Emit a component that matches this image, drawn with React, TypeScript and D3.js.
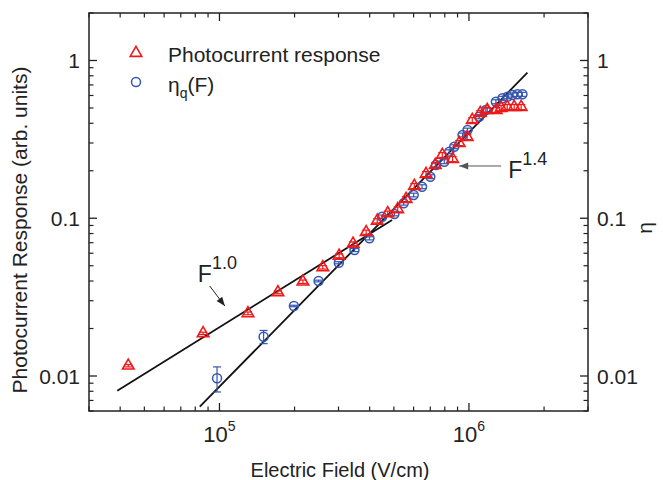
import React from 'react';
import * as d3 from 'd3';

// ---- data ----
const photoX = [4.31e4, 8.6e4, 1.301e5, 1.715e5, 2.16e5, 2.596e5, 3.017e5, 3.432e5, 3.872e5, 4.289e5, 4.725e5, 5.18e5, 5.597e5, 6.04e5, 6.73e5, 7.33e5, 7.82e5, 8.6e5, 9.14e5, 9.84e5, 1.031e6, 1.11e6, 1.184e6, 1.286e6, 1.346e6, 1.423e6, 1.518e6, 1.619e6];
const photoY = [0.01162, 0.01865, 0.02496, 0.03392, 0.0396, 0.04887, 0.05778, 0.06885, 0.08155, 0.09632, 0.1075, 0.1139, 0.1324, 0.1601, 0.1907, 0.2175, 0.2518, 0.2374, 0.2998, 0.3273, 0.4195, 0.4646, 0.4855, 0.4855, 0.4999, 0.5072, 0.5072, 0.5072];
const photoErr = [0.0002, 0.0003, 0.0005, 0.0007, 0.001, 0.0012, 0.0016, 0.002, 0.0025, 0.003, 0.0035, 0.004, 0.005, 0.006, 0.007, 0.008, 0.009, 0.009, 0.011, 0.012, 0.015, 0.017, 0.018, 0.018, 0.019, 0.019, 0.019, 0.019];

const etaX = [9.78e4, 1.503e5, 1.988e5, 2.496e5, 3.009e5, 3.476e5, 3.992e5, 4.487e5, 5.025e5, 5.475e5, 6.003e5, 6.485e5, 7.0e5, 7.38e5, 7.965e5, 8.34e5, 8.73e5, 9.43e5, 9.87e5, 1.099e6, 1.169e6, 1.282e6, 1.362e6, 1.427e6, 1.494e6, 1.564e6, 1.638e6];
const etaY = [0.00967, 0.01774, 0.02778, 0.04, 0.05225, 0.06288, 0.0746, 0.1023, 0.1064, 0.1244, 0.1404, 0.1585, 0.1834, 0.2175, 0.2283, 0.2641, 0.2841, 0.3371, 0.3624, 0.4402, 0.4855, 0.5479, 0.5758, 0.5893, 0.6042, 0.6104, 0.6104];
const etaErr = [0.00175, 0.0017, 0.0003, 0.0005, 0.0008, 0.0014, 0.0017, 0.0025, 0.0028, 0.0033, 0.0038, 0.0045, 0.0052, 0.006, 0.0065, 0.0075, 0.008, 0.0095, 0.01, 0.013, 0.014, 0.016, 0.017, 0.017, 0.018, 0.018, 0.018];

// power-law guide lines: endpoints in data units
const fit10X = [3.894e4, 4.918e5];
const fit10Y = [0.00807, 0.0975];
const fit14X = [8.34e4, 1.715e6];
const fit14Y = [0.00639, 0.8367];

const xMajor = [1e5, 1e6];
const xMajorExp = ['5', '6'];
const yMajor = [0.01, 0.1, 1];
const yMajorLabels = ['0.01', '0.1', '1'];

const legendLabels = ['Photocurrent response', 'η'];

// ---- layout ----
const W = 663, H = 480;
const L = 89, R = 588, T = 13, B = 411;
const FONT = '"Liberation Sans", Arial, Helvetica, sans-serif';
const RED = '#f01818';
const BLUE = '#3456b0';
const AX = '#222';

export default function App() {
  const x = d3.scaleLog().domain([3e4, 3e6]).range([L, R]);
  const y = d3.scaleLog().domain([0.006, 2]).range([B, T]);

  const xMinor: number[] = [];
  for (let e = 4; e <= 6; e++) for (let m = 2; m <= 9; m++) {
    const v = m * Math.pow(10, e);
    if (v >= 3e4 && v <= 3e6) xMinor.push(v);
  }
  const yMinor: number[] = [];
  for (let e = -3; e <= 0; e++) for (let m = 2; m <= 9; m++) {
    const v = m * Math.pow(10, e);
    if (v >= 0.006 && v <= 2) yMinor.push(v);
  }

  const tri = d3.symbol().type(d3.symbolTriangle).size(58)()!;
  const line = d3.line<[number, number]>().x(d => x(d[0])).y(d => y(d[1]));

  const f10 = { lx: 8.19e4, ly: 0.0396, ax0: 9.14e4, ay0: 0.03719, ax1: 1.051e5, ay1: 0.02778 };
  const f14 = { lx: 1.436e6, ly: 0.1799, ax0: 1.346e6, ay0: 0.2144, ax1: 9.14e5, ay1: 0.2144 };

  const arrowHead = (x0: number, y0: number, x1: number, y1: number, len: number, half: number) => {
    const ang = Math.atan2(y1 - y0, x1 - x0);
    const bx = x1 - len * Math.cos(ang), by = y1 - len * Math.sin(ang);
    const px = -Math.sin(ang) * half, py = Math.cos(ang) * half;
    return `M${x1},${y1}L${bx + px},${by + py}L${bx - px},${by - py}Z`;
  };

  const errBar = (cx: number, v: number, e: number, color: string, key: string) => {
    const y0 = y(v - e), y1 = y(v + e);
    return (
      <g key={key} stroke={color} strokeWidth={1.2}>
        <line x1={cx} x2={cx} y1={y0} y2={y1} />
        <line x1={cx - 4} x2={cx + 4} y1={y0} y2={y0} />
        <line x1={cx - 4} x2={cx + 4} y1={y1} y2={y1} />
      </g>
    );
  };

  const a1 = { x0: x(f10.ax0), y0: y(f10.ay0), x1: x(f10.ax1), y1: y(f10.ay1) };
  const a2 = { x0: x(f14.ax0), y0: y(f14.ay0), x1: x(f14.ax1), y1: y(f14.ay1) };

  return (
    <svg width={W} height={H} style={{ position: 'absolute', left: 0, top: 0, background: '#fff' }} fontFamily={FONT}>
      <rect x={0} y={0} width={W} height={H} fill="#fff" />
      {/* fit lines */}
      <path d={line([[fit10X[0], fit10Y[0]], [fit10X[1], fit10Y[1]]])!} stroke="#111" strokeWidth={1.8} fill="none" />
      <path d={line([[fit14X[0], fit14Y[0]], [fit14X[1], fit14Y[1]]])!} stroke="#111" strokeWidth={1.8} fill="none" />

      {/* eta circles */}
      {etaX.map((v, i) => errBar(x(v), etaY[i], etaErr[i], BLUE, 'eb' + i))}
      {etaX.map((v, i) => (
        <circle key={'c' + i} cx={x(v)} cy={y(etaY[i])} r={4.5} fill="none" stroke={BLUE} strokeWidth={1.5} />
      ))}
      {/* photocurrent triangles */}
      {photoX.map((v, i) => errBar(x(v), photoY[i], photoErr[i], RED, 'pb' + i))}
      {photoX.map((v, i) => (
        <path key={'t' + i} d={tri} transform={`translate(${x(v)},${y(photoY[i])})`} fill="none" stroke={RED} strokeWidth={1.6} />
      ))}

      {/* frame */}
      <rect x={L} y={T} width={R - L} height={B - T} fill="none" stroke={AX} strokeWidth={1.5} />
      {xMajor.map(v => (
        <g key={'xm' + v} stroke={AX} strokeWidth={1.3}>
          <line x1={x(v)} x2={x(v)} y1={B} y2={B - 8} />
          <line x1={x(v)} x2={x(v)} y1={T} y2={T + 8} />
        </g>
      ))}
      {xMinor.map(v => (
        <g key={'xn' + v} stroke={AX} strokeWidth={1.2}>
          <line x1={x(v)} x2={x(v)} y1={B} y2={B - 4.5} />
          <line x1={x(v)} x2={x(v)} y1={T} y2={T + 4.5} />
        </g>
      ))}
      {yMajor.map(v => (
        <g key={'ym' + v} stroke={AX} strokeWidth={1.3}>
          <line x1={L} x2={L + 8} y1={y(v)} y2={y(v)} />
          <line x1={R} x2={R - 8} y1={y(v)} y2={y(v)} />
        </g>
      ))}
      {yMinor.map(v => (
        <g key={'yn' + v} stroke={AX} strokeWidth={1.2}>
          <line x1={L} x2={L + 4.5} y1={y(v)} y2={y(v)} />
          <line x1={R} x2={R - 4.5} y1={y(v)} y2={y(v)} />
        </g>
      ))}

      {/* tick labels */}
      {xMajor.map((v, i) => (
        <text key={'xl' + v} x={x(v)} y={442} textAnchor="middle" fontSize={22} fill="#222">
          10<tspan fontSize={14} dy={-11}>{xMajorExp[i]}</tspan>
        </text>
      ))}
      {yMajor.map((v, i) => (
        <g key={'yl' + v}>
          <text x={80} y={y(v)} dy="0.36em" textAnchor="end" fontSize={21} fill="#222">{yMajorLabels[i]}</text>
          <text x={597} y={y(v)} dy="0.36em" textAnchor="start" fontSize={21} fill="#222">{yMajorLabels[i]}</text>
        </g>
      ))}

      {/* axis titles */}
      <text x={340} y={477} textAnchor="middle" fontSize={20} fill="#222">Electric Field (V/cm)</text>
      <text transform="translate(27,230) rotate(-90)" textAnchor="middle" fontSize={21} fill="#222">Photocurrent Response (arb. units)</text>
      <text transform="translate(652,228) rotate(-90)" textAnchor="middle" fontSize={21} fill="#222">η</text>

      {/* legend */}
      <path d={tri} transform="translate(136,53)" fill="none" stroke={RED} strokeWidth={1.6} />
      <text x={168} y={62} fontSize={21} fill="#222">{legendLabels[0]}</text>
      <circle cx={136} cy={82} r={4.5} fill="none" stroke={BLUE} strokeWidth={1.5} />
      <text x={168} y={92} fontSize={21} fill="#222">
        {legendLabels[1]}<tspan fontSize={14} dy={6}>q</tspan><tspan dy={-6}>(F)</tspan>
      </text>

      {/* annotations */}
      <text x={x(f10.lx)} y={y(f10.ly)} fontSize={23} fill="#222">
        F<tspan fontSize={18} dy={-13}>1.0</tspan>
      </text>
      <line x1={a1.x0} y1={a1.y0} x2={a1.x1} y2={a1.y1} stroke="#222" strokeWidth={1} />
      <path d={arrowHead(a1.x0, a1.y0, a1.x1, a1.y1, 9, 3.5)} fill="#222" />

      <text x={x(f14.lx)} y={y(f14.ly)} fontSize={23} fill="#222">
        F<tspan fontSize={18} dy={-13}>1.4</tspan>
      </text>
      <line x1={a2.x0} y1={a2.y0} x2={a2.x1} y2={a2.y1} stroke="#555" strokeWidth={1} />
      <path d={arrowHead(a2.x0, a2.y0, a2.x1, a2.y1, 9, 3.5)} fill="#555" />
    </svg>
  );
}
